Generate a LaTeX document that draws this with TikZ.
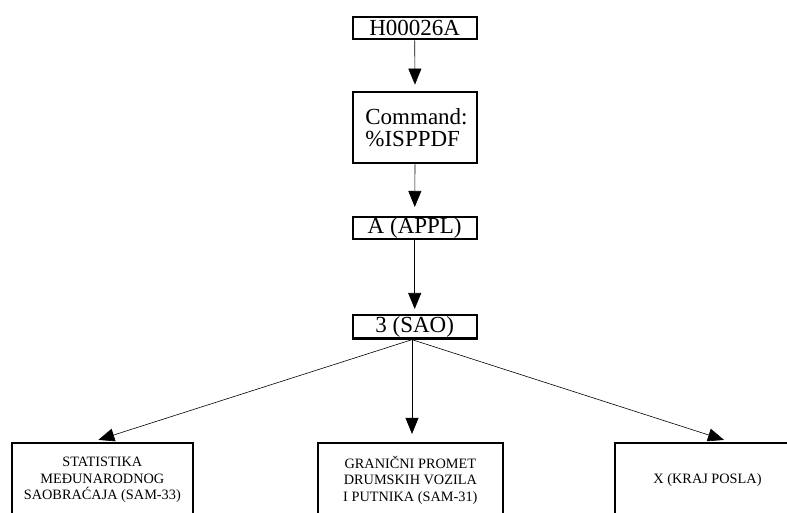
\documentclass[tikz,border=0pt]{standalone}
\usepackage{fontspec}
\setmainfont{Liberation Serif}
\usetikzlibrary{arrows.meta}
\tikzset{
  topbox/.style={draw, line width=2.2pt, inner sep=0pt, minimum width=124pt, font=\fontsize{23}{22}\selectfont},
  lowbox/.style={draw, line width=2.2pt, inner sep=0pt, minimum height=74pt, align=center, font=\fontsize{14.3}{16.5}\selectfont},
  conn/.style={line width=0.6pt, -{Triangle[length=16pt,width=13pt]}}
}
\begin{document}
\begin{tikzpicture}[x=1pt,y=-1pt]
\useasboundingbox (0,0) rectangle (787,512);
\clip (0,0) rectangle (787,512);
\node[topbox, minimum height=22.3pt] (h) at (414.7,28.2) {H00026A};
\node[topbox, minimum height=71.6pt, minimum width=124.6pt, align=left] (cmd) at (415,127.5) {\hspace*{3pt}Command:\\\hspace*{3pt}\%ISPPDF};
\node[topbox, minimum height=22.3pt] (appl) at (414.7,228.2) {A (APPL)};
\node[topbox, minimum height=23.5pt] (sao) at (414.7,326.8) {3 (SAO)};
\node[lowbox, minimum width=181.3pt] (left) at (102.35,480) {STATISTIKA\\MEĐUNARODNOG\\SAOBRAĆAJA (SAM-33)};
\node[lowbox, minimum width=184.7pt] (mid) at (410.35,480) {GRANIČNI PROMET\\DRUMSKIH VOZILA\\I PUTNIKA (SAM-31)};
\node[lowbox, minimum width=185pt] (right) at (707.5,480) {X (KRAJ POSLA)};
\coordinate (fan) at ([xshift=-2.7pt]sao.south);
\draw[conn, shorten >=6pt] (h.south) -- (cmd.north);
\draw[conn, shorten >=9pt] (cmd.south) -- (appl.north);
\draw[conn, shorten >=5pt] (appl.south) -- (sao.north);
\draw[conn] (fan) -- ([xshift=-4pt,yshift=2pt]left.north);
\draw[conn, shorten >=8pt] (fan) -- (fan |- mid.north);
\draw[conn] (fan) -- ([xshift=16.5pt,yshift=2pt]right.north);
\end{tikzpicture}
\end{document}
